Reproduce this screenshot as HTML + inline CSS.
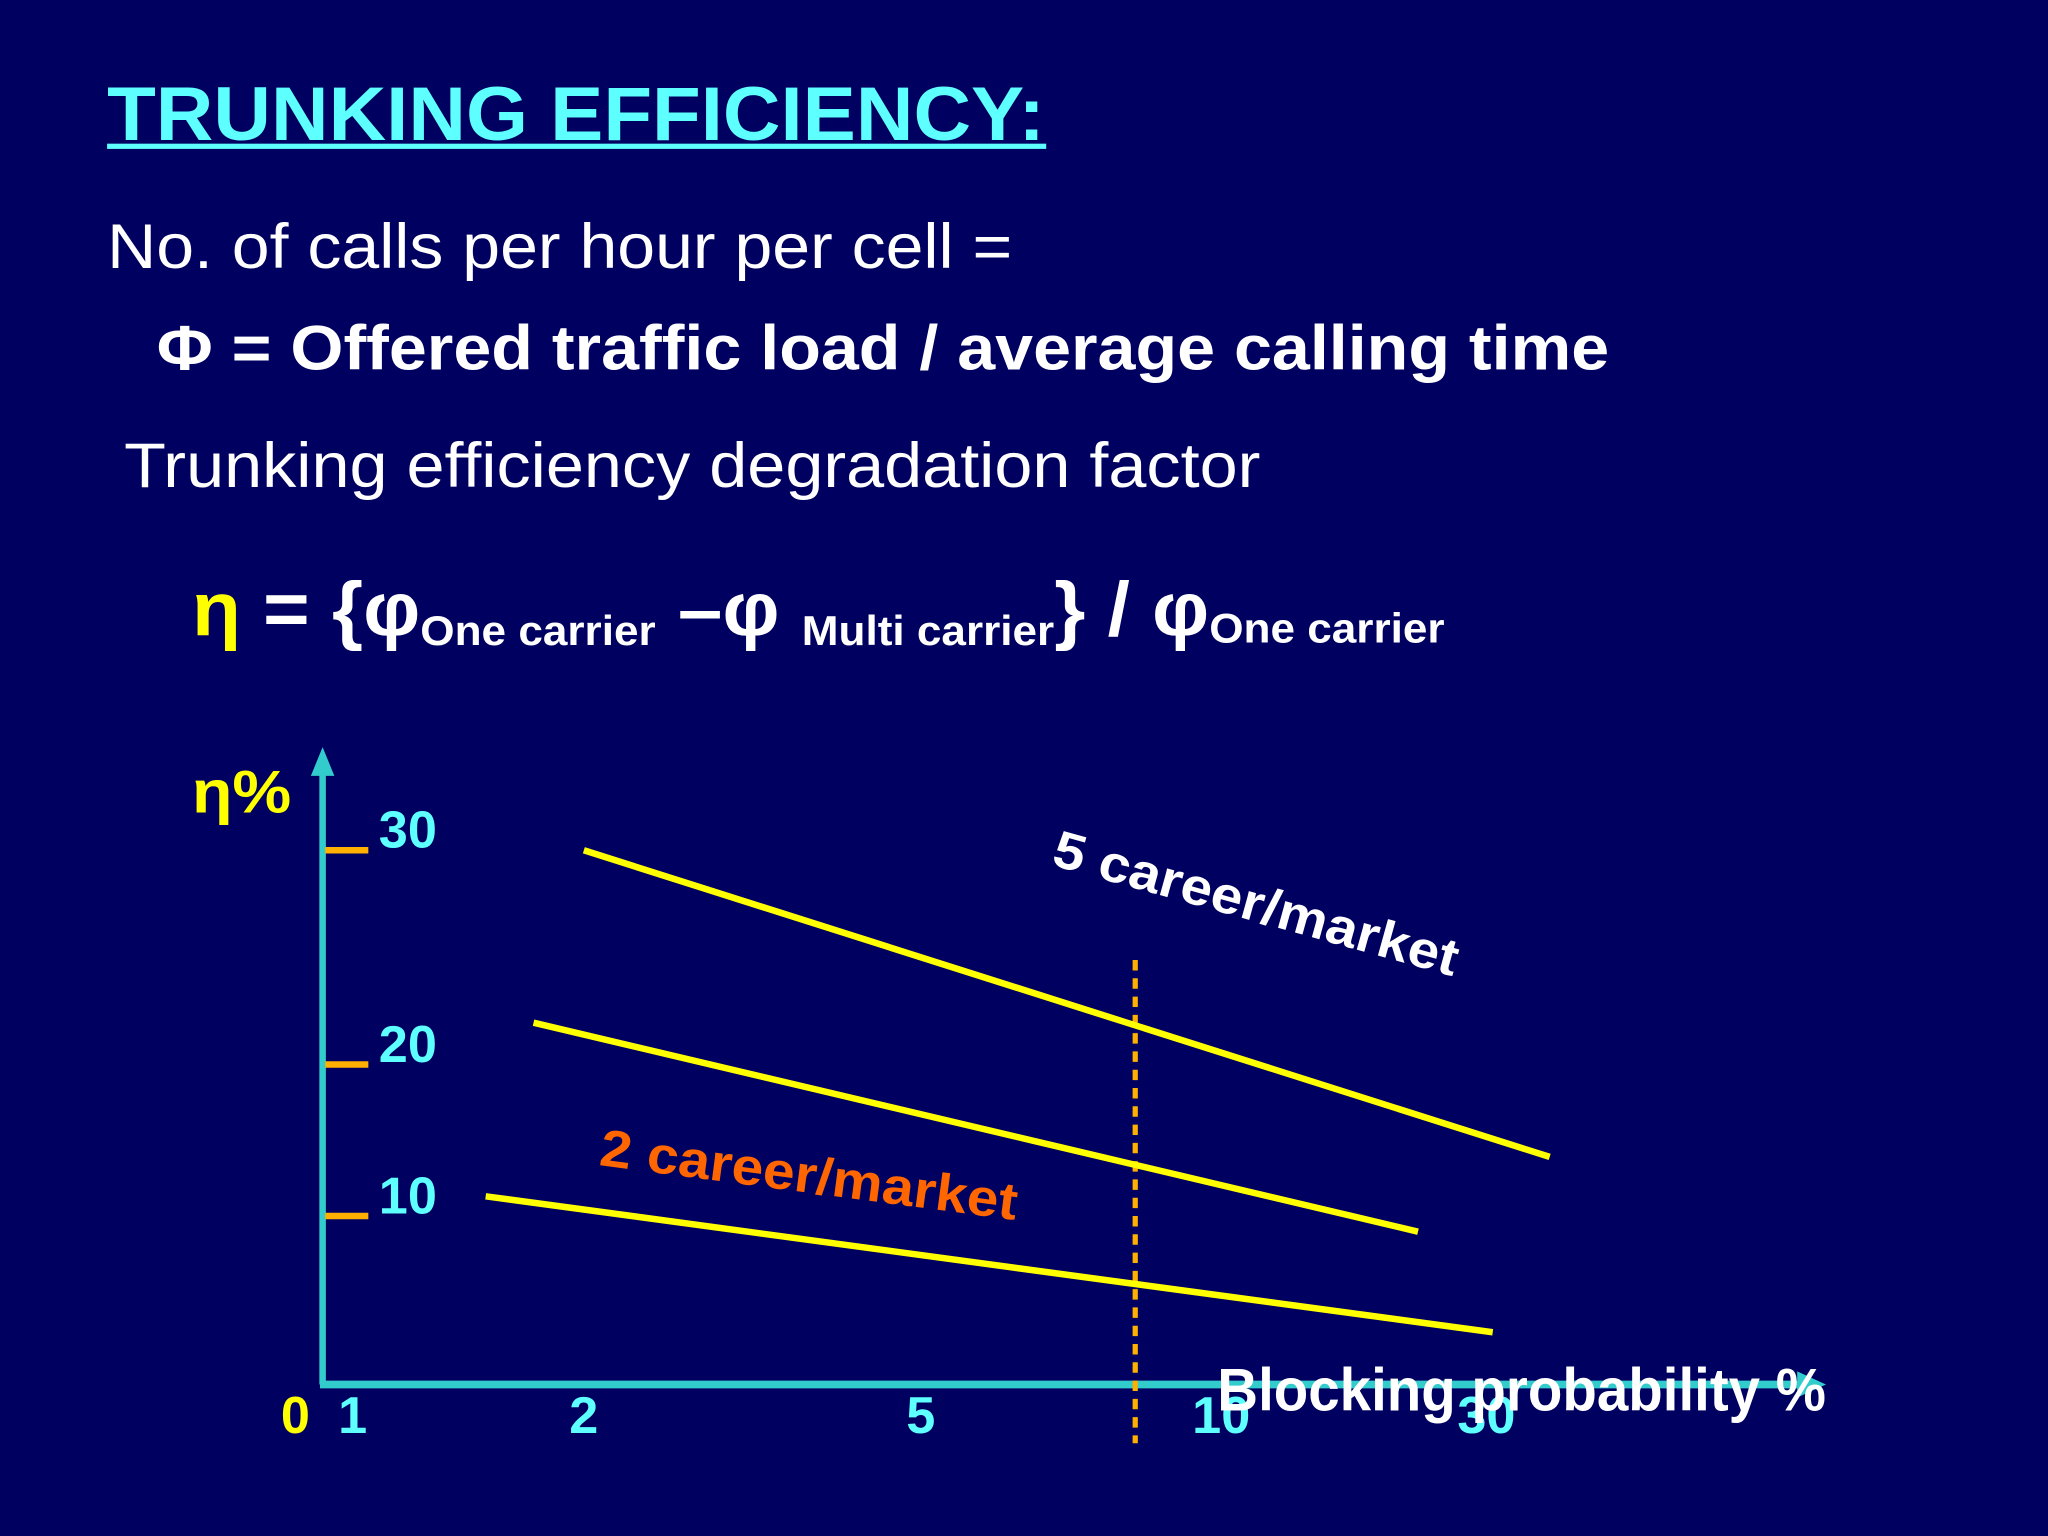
<!DOCTYPE html>
<html><head><meta charset="utf-8"><style>
html,body{margin:0;padding:0;background:#000060;}
svg{display:block;font-family:"Liberation Sans",Arial,sans-serif;}
</style></head><body>
<svg id="slide" width="2048" height="1536" viewBox="0 0 1568 1176" xmlns="http://www.w3.org/2000/svg">
<rect width="1568" height="1176" fill="#000060"/>
<text x="82" y="107" fill="#5EFFFF" font-size="58" font-weight="bold" textLength="718" lengthAdjust="spacingAndGlyphs">TRUNKING EFFICIENCY:</text>
<rect x="82" y="110" width="719" height="4" fill="#5EFFFF"/>
<text x="82" y="205" fill="#fff" font-size="48" textLength="693" lengthAdjust="spacingAndGlyphs">No. of calls per hour per cell =</text>
<text x="120" y="283" fill="#fff" font-size="48" font-weight="bold" textLength="1112" lengthAdjust="spacingAndGlyphs">Φ = Offered traffic load / average calling time</text>
<text x="95" y="373" fill="#fff" font-size="48" textLength="870" lengthAdjust="spacingAndGlyphs">Trunking efficiency degradation factor</text>
<g font-weight="bold" fill="#fff">
<text x="147" y="486" font-size="58" textLength="959" lengthAdjust="spacingAndGlyphs"><tspan fill="#FFFF00">η</tspan> = {φ<tspan font-size="32" dy="8">One carrier</tspan><tspan dy="-8"> –φ </tspan><tspan font-size="32" dy="8">Multi carrier</tspan><tspan dy="-8">} / φ</tspan><tspan font-size="32" dy="6">One carrier</tspan></text>
</g>
<g id="chart"></g>
</svg>
<script>
const yTicks=[10,20,30];
const xTickLabels=[1,2,5,10,30];
const seriesA_x=[2.0,39];    const seriesA_y=[30,13.9];
const seriesB_x=[1.72,22.6]; const seriesB_y=[21.95,9.07];
const seriesC_x=[1.49,30.8]; const seriesC_y=[11.3,3.1];
const markerX=[8.2];
const NS="http://www.w3.org/2000/svg";
const g=document.getElementById('chart');
// axis scale definitions (piecewise, as drawn on the slide)
const xDom=[1,2,5,10,30], xRng=[270,447,705,935,1138];
const yDom=[0,10,20,30], yRng=[1060,931,815,651];
function interp(v,d,r){
 let i=0;while(i<d.length-2&&v>d[i+1])i++;
 return r[i]+(v-d[i])/(d[i+1]-d[i])*(r[i+1]-r[i]);
}
function X(v){return interp(Math.log10(v),xDom.map(Math.log10),xRng);}
function Y(v){return interp(v,yDom,yRng);}
function mk(t,a,p){const e=document.createElementNS(NS,t);for(const k in a)e.setAttribute(k,a[k]);(p||g).appendChild(e);return e;}
let e;
e=mk('line',{x1:247,y1:1060,x2:247,y2:588,stroke:'#33CCCC','stroke-width':5});


e=mk('polygon',{points:'247,572 238,594 256,594',fill:'#33CCCC'});


e=mk('line',{x1:245,y1:1060,x2:1382,y2:1060,stroke:'#33CCCC','stroke-width':6});


e=mk('polygon',{points:'1398,1060 1376,1050 1376,1070',fill:'#33CCCC'});


e=mk('text',{x:147,y:622,fill:'#FFFF00','font-size':46,'font-weight':'bold',textLength:76,lengthAdjust:'spacingAndGlyphs'});e.textContent='η%';


yTicks.forEach(v=>{
 const t=mk('line',{x1:249,y1:Y(v),x2:282,y2:Y(v),stroke:'#FFB000','stroke-width':5});
 
 
 const l=mk('text',{x:290,y:Y(v)-2,fill:'#5EFFFF','font-size':40,'font-weight':'bold'});l.textContent=v;
 
 
});
e=mk('text',{x:215,y:1097,fill:'#FFFF00','font-size':40,'font-weight':'bold'});e.textContent='0';


xTickLabels.forEach(v=>{
 const l=mk('text',{x:X(v),y:1097,fill:'#5EFFFF','font-size':40,'font-weight':'bold','text-anchor':'middle'});l.textContent=v;
 
 
});
e=mk('line',{x1:X(markerX[0]),y1:735,x2:X(markerX[0]),y2:1105,stroke:'#FFB000','stroke-width':4,'stroke-dasharray':'8,6'});


[[seriesA_x,seriesA_y,'line-series-top'],[seriesB_x,seriesB_y,'line-series-middle'],[seriesC_x,seriesC_y,'line-series-bottom']].forEach(s=>{
 const pts=s[0].map((x,i)=>X(x)+','+Y(s[1][i])).join(' ');
 const p=mk('polyline',{points:pts,fill:'none',stroke:'#FFFF00','stroke-width':5});
 
 
});
e=mk('text',{x:0,y:0,fill:'#fff','font-size':40,'font-weight':'bold',textLength:320,lengthAdjust:'spacingAndGlyphs',transform:'translate(804,662) rotate(15.5)'});e.textContent='5 career/market';


e=mk('text',{x:0,y:0,fill:'#FF6600','font-size':40,'font-weight':'bold',textLength:322,lengthAdjust:'spacingAndGlyphs',transform:'translate(458,892) rotate(7.5)'});e.textContent='2 career/market';


e=mk('text',{x:932,y:1080,fill:'#fff','font-size':46,'font-weight':'bold',textLength:466,lengthAdjust:'spacingAndGlyphs'});e.textContent='Blocking probability %';


</script>
</body></html>
